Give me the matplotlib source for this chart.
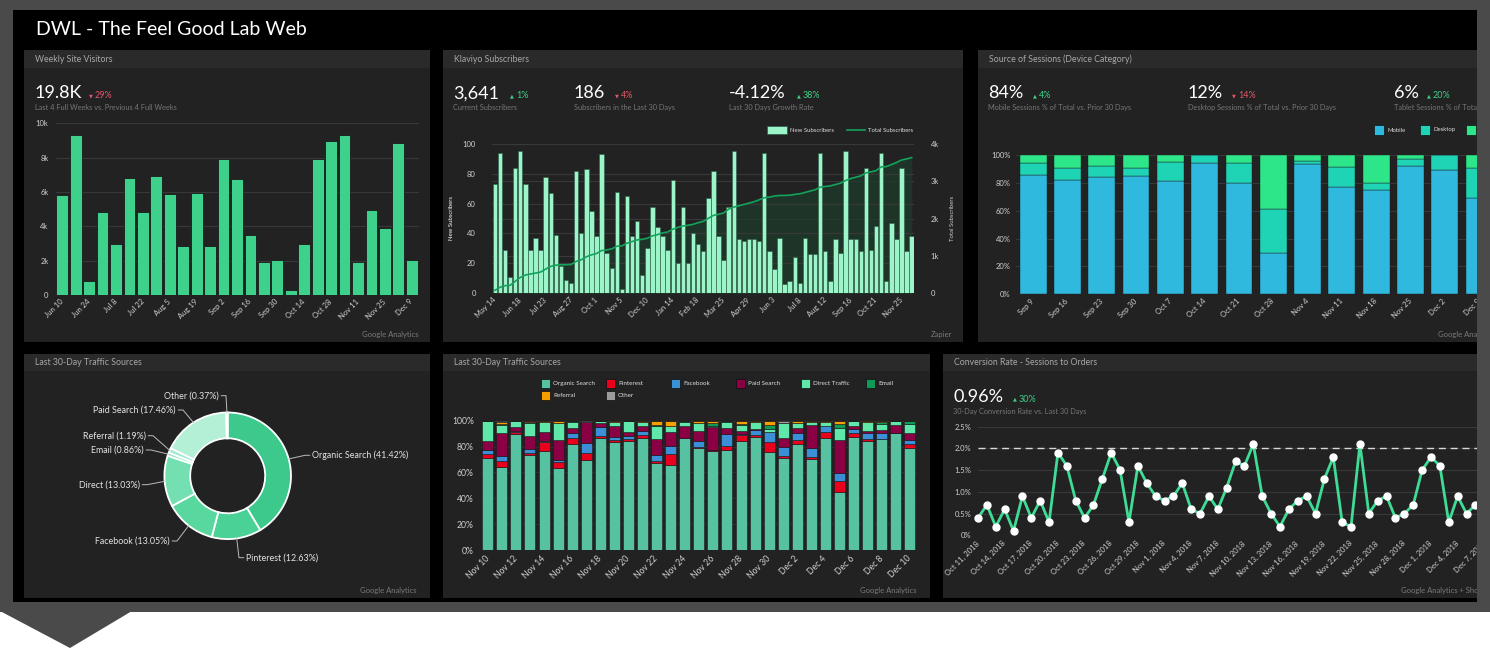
import numpy as np
import matplotlib
matplotlib.use('Agg')
import matplotlib.pyplot as plt
from matplotlib.patches import Rectangle, Polygon

plt.rcParams['font.family'] = ['Lato', 'DejaVu Sans']

W, H = 1490, 651

# ---------------- data ----------------
# Weekly Site Visitors (Google Analytics)
visit_labels = ['Jun 10', 'Jun 24', 'Jul 8', 'Jul 22', 'Aug 5', 'Aug 19', 'Sep 2',
                'Sep 16', 'Sep 30', 'Oct 14', 'Oct 28', 'Nov 11', 'Nov 25', 'Dec 9']
visits = [5850, 9300, 800, 4850, 2950, 6800, 4850, 6950, 5900, 2850, 5950, 2850, 7900,
          6750, 3500, 1950, 2050, 300, 2950, 7900, 8950, 9300, 1950, 4950, 3900, 8850, 2050]

# Klaviyo Subscribers (Zapier)
sub_labels = ['May 14', 'Jun 18', 'Jul 23', 'Aug 27', 'Oct 1', 'Nov 5', 'Dec 10', 'Jan 14',
              'Feb 18', 'Mar 25', 'Apr 29', 'Jun 3', 'Jul 8', 'Aug 12', 'Sep 16', 'Oct 21', 'Nov 25']
new_subs = [73, 94, 29, 11, 84, 95, 73, 29, 37, 29, 78, 67, 39, 18, 9, 7, 82, 40, 83, 55,
            38, 93, 27, 17, 68, 3, 65, 38, 48, 12, 30, 58, 44, 38, 29, 76, 20, 58, 20, 40,
            33, 28, 64, 82, 38, 22, 58, 95, 36, 35, 36, 36, 35, 94, 28, 16, 37, 6, 8, 24,
            7, 37, 26, 26, 94, 28, 8, 36, 27, 95, 36, 36, 28, 84, 29, 45, 94, 8, 47, 36,
            84, 28, 38]
total_subs = [80, 160, 204, 212, 320, 424, 488, 516, 540, 568, 648, 720, 752, 764, 764, 772,
              852, 896, 976, 1028, 1064, 1144, 1160, 1188, 1260, 1268, 1340, 1384, 1428, 1444,
              1472, 1536, 1568, 1616, 1640, 1712, 1764, 1800, 1820, 1844, 1888, 1924, 2004,
              2084, 2112, 2148, 2252, 2304, 2340, 2376, 2412, 2448, 2500, 2556, 2572, 2600,
              2616, 2616, 2624, 2644, 2660, 2696, 2732, 2768, 2840, 2856, 2872, 2908, 2944,
              3016, 3068, 3104, 3140, 3220, 3248, 3280, 3380, 3388, 3440, 3496, 3564, 3592, 3628]

# Source of Sessions (Device Category), % of sessions
device_labels = ['Sep 9', 'Sep 16', 'Sep 23', 'Sep 30', 'Oct 7', 'Oct 14', 'Oct 21',
                 'Oct 28', 'Nov 4', 'Nov 11', 'Nov 18', 'Nov 25', 'Dec 2', 'Dec 9']
mobile = [86, 82, 84, 85, 81, 94, 80, 30, 93.5, 77, 74.6, 92.3, 89, 69.4]
desktop = [8, 9, 8, 6, 14, 6, 14, 31, 2.5, 14.4, 5.1, 4.7, 11, 21]
tablet = [6, 9, 8, 9, 5, 0, 6, 39, 4, 8.6, 20.3, 3, 0, 9.6]

# Last 30-Day Traffic Sources (donut)
source_names = ['Organic Search', 'Pinterest', 'Facebook', 'Direct', 'Email',
                'Referral', 'Paid Search', 'Other']
source_share = [41.42, 12.63, 13.05, 13.03, 0.86, 1.19, 17.46, 0.37]

# Last 30-Day Traffic Sources (daily stacked %)
day_labels = ['Nov 10', 'Nov 12', 'Nov 14', 'Nov 16', 'Nov 18', 'Nov 20', 'Nov 22', 'Nov 24',
              'Nov 26', 'Nov 28', 'Nov 30', 'Dec 2', 'Dec 4', 'Dec 6', 'Dec 8', 'Dec 10']
organic = [71.1, 64.4, 89.4, 73.5, 76.8, 63.4, 81.7, 69.8, 86.9, 83.5, 84.5, 86.9, 67.3, 65.7,
           86.3, 78.6, 76.8, 77.3, 84.0, 87.1, 76.0, 71.4, 81.7, 70.4, 86.3, 44.6, 87.6, 84.0,
           85.6, 90.2, 78.6]
pinterest = [2.9, 4.4, 2.1, 1.5, 6.7, 4.6, 4.6, 4.9, 1.2, 1.3, 1.6, 2.0, 1.5, 8.5, 0.3, 0.8,
             0.5, 3.4, 4.7, 1.8, 7.8, 1.6, 3.1, 1.5, 5.2, 8.8, 2.9, 1.6, 0.3, 0, 3.1]
facebook = [3.3, 3.9, 0.5, 3.4, 0.5, 1.6, 4.4, 7.8, 7.3, 2.8, 1.8, 3.4, 4.9, 6.5, 0.3, 5.1,
            0.3, 8.7, 1.0, 3.6, 7.2, 6.9, 5.9, 6.7, 4.1, 5.9, 3.1, 4.6, 4.8, 0, 3.3]
paid = [7.0, 18.0, 3.4, 10.0, 7.5, 15.4, 3.6, 16.7, 2.5, 8.5, 3.6, 3.3, 12.1, 10.8, 9.0, 7.8,
        17.8, 5.2, 2.0, 0.8, 0, 6.7, 3.9, 18.0, 0, 25.7, 2.3, 1.8, 2.1, 6.2, 5.7]
direct = [15.4, 5.9, 4.3, 9.5, 7.2, 13.0, 4.4, 0, 1.6, 2.9, 8.2, 3.1, 10.1, 4.1, 3.1, 5.7,
          0.6, 4.6, 4.9, 5.7, 2.6, 11.9, 3.4, 2.6, 3.1, 9.6, 3.8, 7.0, 4.6, 3.1, 6.5]
email = [0, 1.0, 0, 1.3, 0, 0.5, 1.0, 0, 0.2, 0, 0, 0, 0.8, 0.4, 0.7, 0.5, 2.3, 0.5, 0.5, 0,
         3.0, 0, 0, 0, 0, 2.8, 0, 0, 1.3, 0.2, 2.5]
referral = [0, 1.6, 0, 0.5, 1.0, 1.2, 0, 0, 0, 0.7, 0, 1.0, 3.0, 3.7, 0, 1.2, 1.4, 0, 2.6,
            0.7, 3.1, 0, 1.7, 0.5, 1.0, 2.3, 0, 0.7, 1.0, 0, 0]
other = [0.3, 0.8, 0.3, 0.3, 0.3, 0.3, 0.3, 0.8, 0.3, 0.3, 0.3, 0.3, 0.3, 0.3, 0.3, 0.3, 0.3,
         0.3, 0.3, 0.3, 0.3, 1.5, 0.3, 0.3, 0.3, 0.3, 0.3, 0.3, 0.3, 0.3, 0.3]

# Conversion Rate - Sessions to Orders (%, daily from Oct 11, 2018)
conv_labels = ['Oct 11, 2018', 'Oct 14, 2018', 'Oct 17, 2018', 'Oct 20, 2018', 'Oct 23, 2018',
               'Oct 26, 2018', 'Oct 29, 2018', 'Nov 1, 2018', 'Nov 4, 2018', 'Nov 7, 2018',
               'Nov 10, 2018', 'Nov 13, 2018', 'Nov 16, 2018', 'Nov 19, 2018', 'Nov 22, 2018',
               'Nov 25, 2018', 'Nov 28, 2018', 'Dec 1, 2018', 'Dec 4, 2018', 'Dec 7, 2018']
conv_rate = [0.4, 0.7, 0.2, 0.6, 0.1, 0.9, 0.4, 0.8, 0.3, 1.9, 1.6, 0.8, 0.4, 0.7, 1.3, 1.9,
             1.5, 0.3, 1.6, 1.2, 0.9, 0.8, 0.9, 1.2, 0.6, 0.5, 0.9, 0.6, 1.1, 1.7, 1.6, 2.1,
             0.9, 0.5, 0.2, 0.6, 0.8, 0.9, 0.5, 1.3, 1.8, 0.3, 0.2, 2.1, 0.5, 0.8, 0.9, 0.4,
             0.5, 0.7, 1.5, 1.8, 1.6, 0.3, 0.9, 0.5, 0.7]
conv_target = 2.0

# ---------------- colours ----------------
FRAME = '#4a4a4a'
PANEL = '#222222'
HEAD = '#2a2a2a'
GRID = '#383838'
TICK = '#cfcfcf'
CAPTION = '#767676'
UP = '#3fcf85'
DOWN = '#e0566a'

fig = plt.figure(figsize=(W / 100, H / 100), dpi=100, facecolor='white')


def px_axes(x0, y0, x1, y1, z=0):
    return fig.add_axes([x0 / W, 1 - y1 / H, (x1 - x0) / W, (y1 - y0) / H], zorder=z)


def style(ax, size=5.5, pad=4):
    ax.set_facecolor('none')
    for s in ax.spines.values():
        s.set_visible(False)
    ax.tick_params(length=0, labelsize=size, labelcolor=TICK, pad=pad)
    ax.set_axisbelow(True)


def xlabels(ax, pos, labels, size=5.5, pad=3):
    ax.set_xticks(pos, labels, rotation=45, ha='right', va='center', rotation_mode='anchor')
    ax.tick_params(axis='x', labelsize=size, pad=pad)


# ---------------- background: monitor frame, screen, panels ----------------
bg = fig.add_axes([0, 0, 1, 1], zorder=-5)
bg.set_xlim(0, W)
bg.set_ylim(H, 0)
bg.axis('off')

bg.add_patch(Rectangle((0, 0), W, 612, color=FRAME, lw=0))
bg.add_patch(Polygon([(0, 611), (70, 648), (132, 611)], closed=True, color=FRAME, lw=0))
bg.add_patch(Rectangle((13, 10), 1465, 592, color='black', lw=0))
bg.text(36, 35, 'DWL - The Feel Good Lab Web', color='white', fontsize=14, va='baseline')

panels = [(24, 50, 430, 341.5, 'Weekly Site Visitors'),
          (443, 50, 963, 341.5, 'Klaviyo Subscribers'),
          (978, 50, 1490, 341.5, 'Source of Sessions (Device Category)'),
          (24, 353.5, 430, 597.5, 'Last 30-Day Traffic Sources'),
          (443, 353.5, 930, 597.5, 'Last 30-Day Traffic Sources'),
          (943, 353.5, 1490, 597.5, 'Conversion Rate - Sessions to Orders')]
for x0, y0, x1, y1, title in panels:
    bg.add_patch(Rectangle((x0, y0), x1 - x0, y1 - y0, color=PANEL, lw=0))
    bg.add_patch(Rectangle((x0, y0), x1 - x0, 17.5, color=HEAD, lw=0))
    bg.text(x0 + 11, y0 + 9, title, color='#a8a8a8', fontsize=6.3, va='center')

footers = [('Google Analytics', 418, 334, 'right'), ('Zapier', 952, 334, 'right'),
           ('Google Analytics', 1438, 334, 'left'), ('Google Analytics', 417, 590, 'right'),
           ('Google Analytics', 917, 590, 'right'), ('Google Analytics + Shopify', 1401, 590, 'left')]
for s, x, y, ha in footers:
    bg.text(x, y, s, color='#7a7a7a', fontsize=5.5, va='center', ha=ha)


def stat(x, base, value, dx, delta, up, caption):
    col = UP if up else DOWN
    bg.text(x, base, value, color='white', fontsize=13, va='baseline')
    bg.text(dx, base - 2.6, '▲' if up else '▼', color=col, fontsize=3.6, va='center',
            family='DejaVu Sans')
    bg.text(dx + 6, base, delta, color=col, fontsize=6.5, va='baseline')
    bg.text(x, base + 9.5, caption, color=CAPTION, fontsize=5.3, va='center')


stat(35, 98.3, '19.8K', 89, '29%', False, 'Last 4 Full Weeks vs. Previous 4 Full Weeks')
stat(453, 98.3, '3,641', 510, '1%', True, 'Current Subscribers')
stat(574, 98.3, '186', 615, '4%', False, 'Subscribers in the Last 30 Days')
stat(729, 98.3, '-4.12%', 797, '38%', True, 'Last 30 Days Growth Rate')
stat(988, 98.3, '84%', 1033, '4%', True, 'Mobile Sessions % of Total vs. Prior 30 Days')
stat(1188, 98.3, '12%', 1232, '14%', False, 'Desktop Sessions % of Total vs. Prior 30 Days')
stat(1394, 98.3, '6%', 1427, '20%', True, 'Tablet Sessions % of Total vs. Prior 30 Days')
stat(953, 401.7, '0.96%', 1013, '30%', True, '30-Day Conversion Rate vs. Last 30 Days')

# ---------------- 1. weekly site visitors ----------------
ax1 = px_axes(55.5, 123.3, 418.5, 295)
style(ax1, pad=5)
ax1.bar(range(len(visits)), visits, width=0.87, color='#3dd18b', edgecolor='#1a1a1a', lw=0.6)
ax1.set_xlim(-0.5, len(visits) - 0.5)
ax1.set_ylim(0, 10000)
ax1.set_yticks([0, 2000, 4000, 6000, 8000, 10000], ['0', '2k', '4k', '6k', '8k', '10k'])
ax1.grid(axis='y', color=GRID, lw=0.8)
xlabels(ax1, range(0, len(visits), 2), visit_labels, pad=4)

# ---------------- 2. klaviyo subscribers ----------------
SUB_BAR = '#9cf5c8'
SUB_LINE = '#13a35c'
xs = np.arange(len(new_subs))
ax2 = px_axes(492.3, 143.7, 914.2, 293.3, z=2)
style(ax2, size=5.5, pad=12)
ax2.bar(xs, new_subs, width=0.86, color=SUB_BAR, edgecolor='#2b5a45', lw=0.4)
ax2.set_xlim(-0.5, len(new_subs) - 0.5)
ax2.set_ylim(0, 100)
ax2.set_yticks([0, 20, 40, 60, 80, 100])
ax2.grid(axis='y', color=GRID, lw=0.8)
xlabels(ax2, range(0, len(new_subs), 5), sub_labels, pad=4)
ax2.set_ylabel('New Subscribers', fontsize=4.3, color='white', labelpad=6)

ax2f = ax2.twinx()
ax2f.set_zorder(1)
style(ax2f)
ax2f.fill_between(xs, total_subs, color='#1e3b2c', alpha=0.75, lw=0)
ax2f.set_ylim(0, 4000)
ax2f.set_yticks([0, 1000, 2000, 3000, 4000])
ax2f.tick_params(labelright=False, labelleft=False)
ax2f.grid(axis='y', color=GRID, lw=0.8)

ax2l = ax2.twinx()
ax2l.set_zorder(3)
style(ax2l, pad=12)
ax2l.plot(xs, total_subs, color=SUB_LINE, lw=1.2)
ax2l.set_ylim(0, 4000)
ax2l.set_yticks([0, 1000, 2000, 3000, 4000], ['0', '1k', '2k', '3k', '4k'])
ax2l.set_ylabel('Total Subscribers', fontsize=4.3, color='#cccccc', labelpad=8)

bg.add_patch(Rectangle((767, 126), 20, 8, facecolor=SUB_BAR, edgecolor='#2b5a45', lw=0.5))
bg.text(790, 130, 'New Subscribers', color='#dddddd', fontsize=4.3, va='center')
bg.plot([847, 865], [130, 130], color=SUB_LINE, lw=1.2)
bg.text(868, 130, 'Total Subscribers', color='#dddddd', fontsize=4.3, va='center')

# ---------------- 3. source of sessions ----------------
dev_cols = ['#2fb9df', '#1fd3b5', '#2ee68a']
dev_names = ['Mobile', 'Desktop', 'Tablet']
ax3 = px_axes(1016, 155, 1490, 294.3)
style(ax3)
dx3 = np.arange(len(mobile))
bottom = np.zeros(len(mobile))
for vals, c in zip([mobile, desktop, tablet], dev_cols):
    ax3.bar(dx3, vals, bottom=bottom, width=0.78, color=c, edgecolor='#1c1c1c', lw=0.3)
    bottom += np.array(vals)
ax3.set_xlim(-0.5, (1490 - 1016) / 34.3 - 0.5)
ax3.set_ylim(0, 100)
ax3.set_yticks([0, 20, 40, 60, 80, 100], ['0%', '20%', '40%', '60%', '80%', '100%'])
ax3.grid(axis='y', color=GRID, lw=0.8)
xlabels(ax3, dx3, device_labels, pad=4)
for i, (name, c) in enumerate(zip(dev_names, dev_cols)):
    bx = 1374 + i * 46
    bg.add_patch(Rectangle((bx, 125), 10, 10, facecolor=c, edgecolor='#111111', lw=0.5))
    bg.text(bx + 13, 130, name, color='#dddddd', fontsize=4.3, va='center')

# ---------------- 4. traffic sources donut ----------------
donut_cols = ['#3cc98b', '#49d196', '#58d89f', '#74e0b1', '#8fe7c1', '#9fead0', '#b3f0d6', '#c9f6e3']
cx, cy, R, ring = 227.7, 475.8, 63.3, 25.8
label_pos = [(312, 455.3, 'left'), (246, 557.7, 'left'), (170, 541, 'right'),
             (140, 484.7, 'right'), (144, 450, 'right'), (146, 435.7, 'right'),
             (176, 410, 'right'), (219, 395.7, 'right')]
ax4 = px_axes(24, 371, 430, 597.5)
wedges, _ = ax4.pie(source_share, colors=donut_cols, startangle=90, counterclock=False,
                    center=(cx, H - cy), radius=R,
                    wedgeprops=dict(width=ring, edgecolor='white', linewidth=1.3))
ax4.set_xlim(24, 430)
ax4.set_ylim(H - 597.5, H - 371)
ax4.set_aspect('auto')
ax4.axis('off')
for w, name, share, (tx, ty, ha) in zip(wedges, source_names, source_share, label_pos):
    mid = np.radians((w.theta1 + w.theta2) / 2)
    ax_, ay_ = cx + R * np.cos(mid), (H - cy) + R * np.sin(mid)
    step = 7 if ha == 'right' else -7
    ax4.plot([ax_, tx + step, tx + step / 3], [ay_, H - ty, H - ty],
             color='#bbbbbb', lw=0.7, clip_on=False)
    ax4.text(tx, H - ty, f'{name} ({share:.2f}%)', color='#e4e4e4', fontsize=6.4,
             ha=ha, va='center')

# ---------------- 5. traffic sources stacked ----------------
traffic = [organic, pinterest, facebook, paid, direct, email, referral, other]
traffic_names = ['Organic Search', 'Pinterest', 'Facebook', 'Paid Search', 'Direct Traffic',
                 'Email', 'Referral', 'Other']
traffic_cols = ['#57c2a2', '#e8001c', '#3a8fd6', '#8b0045', '#5fe8a9', '#0f9a57', '#f5a000', '#9b9b9b']
ax5 = px_axes(480.7, 420.7, 916.9, 550)
style(ax5, size=6.2, pad=5)
x5 = np.arange(len(organic))
bottom = np.zeros(len(organic))
for vals, c in zip(traffic, traffic_cols):
    ax5.bar(x5, vals, bottom=bottom, width=0.78, color=c, edgecolor='#1c1c1c', lw=0.4)
    bottom += np.array(vals)
ax5.set_xlim(-0.5, len(organic) - 0.5)
ax5.set_ylim(0, 100)
ax5.set_yticks([0, 20, 40, 60, 80, 100], ['0%', '20%', '40%', '60%', '80%', '100%'])
ax5.grid(axis='y', color='#303030', lw=0.8)
xlabels(ax5, range(0, len(organic), 2), day_labels, size=6.2, pad=5)
for i, (name, c) in enumerate(zip(traffic_names, traffic_cols)):
    bx = 541 + (i % 6) * 65 if i < 6 else 541 + (i - 6) * 65
    by = 383.3 if i < 6 else 395.7
    bg.add_patch(Rectangle((bx, by - 4.5), 9, 9, facecolor=c, edgecolor='#0d0d0d', lw=0.5))
    bg.text(bx + 12, by, name, color='#dddddd', fontsize=4.5, va='center')

# ---------------- 6. conversion rate ----------------
ax6 = px_axes(978, 426.7, 1490, 535.3)
style(ax6, pad=5)
x6 = np.arange(len(conv_rate))
ax6.set_xlim(0, (1490 - 978) / 8.882)
ax6.set_ylim(0, 2.5)
ax6.set_yticks([0, 0.5, 1.0, 1.5, 2.0, 2.5], ['0%', '0.5%', '1.0%', '1.5%', '2.0%', '2.5%'])
ax6.grid(axis='y', color=GRID, lw=0.8)
ax6.axhline(conv_target, color='#d8d8d8', lw=1, dashes=(5, 3.5))
ax6.plot(x6, conv_rate, color='#3fdc96', lw=2, marker='o', ms=5, mfc='white', mec='white',
         clip_on=False, zorder=3)
xlabels(ax6, range(0, 58, 3), conv_labels, size=5.5, pad=5)

# ---------------- right edge of the monitor frame covers overflow ----------------
ov = fig.add_axes([1477 / W, 0, 13 / W, 1], zorder=20)
ov.set_xlim(1477, W)
ov.set_ylim(H, 0)
ov.axis('off')
ov.add_patch(Rectangle((1477, 0), 13, 612, color=FRAME, lw=0))
ov.add_patch(Rectangle((1477, 612), 13, H - 612, color='white', lw=0))

fig.savefig('out.png', dpi=100, facecolor='white')
